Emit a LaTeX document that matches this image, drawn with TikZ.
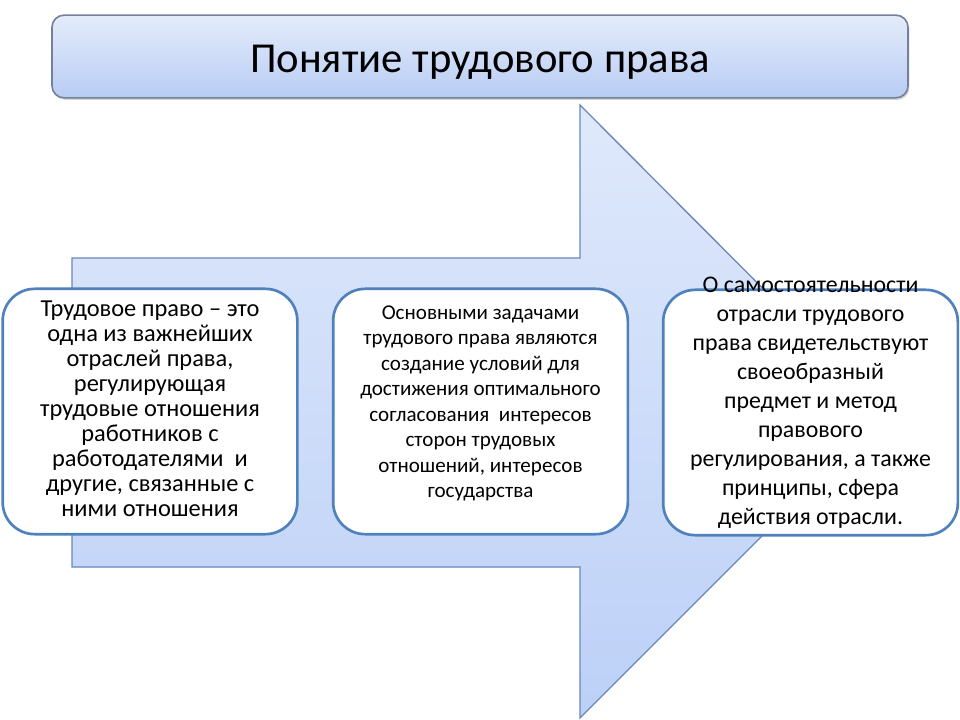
\documentclass[tikz,border=0pt]{standalone}
\usepackage{fontspec}
\setmainfont{Carlito}
\usetikzlibrary{shadows}

\definecolor{boxline}{RGB}{79,129,189}
\definecolor{arrowline}{RGB}{105,135,185}
\definecolor{arrowtop}{RGB}{223,233,251}
\definecolor{arrowbot}{RGB}{188,208,247}
\definecolor{titleline}{RGB}{115,130,155}
\definecolor{titletop}{RGB}{228,236,251}
\definecolor{titlebot}{RGB}{184,204,243}

\begin{document}
\begin{tikzpicture}[x=0.75pt,y=-0.75pt,
 titlebox/.style={draw=titleline, line width=1.2pt, rounded corners=9pt,
   top color=titletop, bottom color=titlebot,
   drop shadow={opacity=0.35, shadow xshift=1pt, shadow yshift=-1.5pt},
   minimum width=642pt, minimum height=62pt},
 textbox/.style={draw=boxline, line width=2pt, fill=white, rounded corners=24pt,
   minimum width=221pt, minimum height=184pt},
 boxtext/.style={align=center, inner sep=0pt}]

  \useasboundingbox (0,0) rectangle (960,720);

  % big arrow behind the boxes
  \path[draw=arrowline, line width=1pt, top color=arrowtop, bottom color=arrowbot]
    (72,258) -- (580,258) -- (580,105) -- (886,412) -- (580,718)
    -- (580,567) -- (72,567) -- cycle;

  \node[titlebox] (title) at (480,56.5) {};
  \node[font=\fontsize{32}{36}\selectfont, yshift=-4pt] (titletext) at (title.center)
    {Понятие трудового права};

  \node[textbox] (def) at (150,411.5) {};
  \node[textbox] (task) at (480.5,411.5) {};
  \node[textbox] (indep) at (810.5,412.5) {};

  \node[boxtext, font=\fontsize{18.3}{18.8}\selectfont, yshift=2pt] (deftext) at (def.center)
    {Трудовое право -- это\\ одна из важнейших\\ отраслей права,\\ регулирующая\\
     трудовые отношения\\ работников с\\ работодателями\ \ и\\ другие, связанные с\\ ними отношения};
  \node[boxtext, font=\fontsize{15.8}{19.1}\selectfont, yshift=6pt] (tasktext) at (task.center)
    {Основными задачами\\ трудового права являются\\ создание условий для\\
     достижения оптимального\\ согласования\ \ интересов\\ сторон трудовых\\
     отношений, интересов\\ государства};
  \node[boxtext, font=\fontsize{17.9}{21.75}\selectfont, yshift=7.5pt] (indeptext) at (indep.center)
    {О самостоятельности\\ отрасли трудового\\ права свидетельствуют\\ своеобразный\\
     предмет и метод\\ правового\\ регулирования, а также\\ принципы, сфера\\ действия отрасли.};
\end{tikzpicture}
\end{document}
